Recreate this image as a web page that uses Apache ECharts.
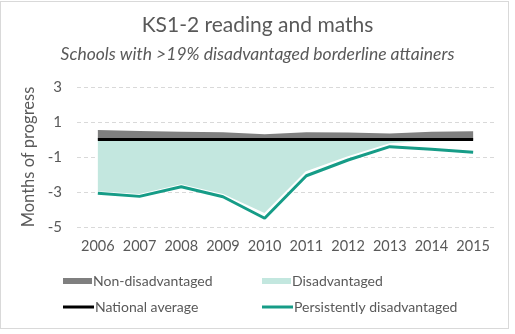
<!DOCTYPE html>
<html><head><meta charset="utf-8">
<script src="https://cdn.jsdelivr.net/npm/echarts@6/dist/echarts.min.js"></script>
<style>
html,body{margin:0;padding:0;background:#fff;}
#frame{position:absolute;left:0;top:1px;width:509px;height:328px;border:1px solid #d9d9d9;box-sizing:border-box;}
#c{position:absolute;left:0;top:0;width:515px;height:334px;}
</style></head>
<body><div id="frame"></div><div id="c"></div>
<script>
const years = ['2006','2007','2008','2009','2010','2011','2012','2013','2014','2015'];
const nonDisadvantaged = [0.54,0.48,0.45,0.41,0.3,0.41,0.4,0.35,0.45,0.47];
const disadvantaged = [-3.0,-3.15,-2.6,-3.15,-4.25,-1.85,-1.0,-0.25,-0.1,-0.1];
const nationalAverage = [0,0,0,0,0,0,0,0,0,0];
const persistentlyDisadvantaged = [-3.07,-3.25,-2.7,-3.27,-4.5,-2.07,-1.17,-0.41,-0.56,-0.73];
const yTicks = {min:-5, max:3, interval:2};

const font = 'Lato, "Open Sans", sans-serif';
const txt = '#595959';
const chart = echarts.init(document.getElementById('c'), null, {renderer:'canvas'});
function leg(name, left, top, opts){
  return Object.assign({data:[name], left:left, top:top, itemGap:0,
    textStyle:{color:txt, fontSize:14, fontFamily:font, padding:[0,0,0,-4]}, selectedMode:false}, opts);
}
chart.setOption({
  animation:false,
  title:[
    {text:'KS1-2 reading and maths', left:'center', top:10, textStyle:{fontFamily:font, fontSize:21, fontWeight:'normal', color:txt}},
    {text:'Schools with >19% disadvantaged borderline attainers', left:'center', top:40, textStyle:{fontFamily:font, fontSize:17.5, fontStyle:'italic', fontWeight:'normal', color:txt}}
  ],
  legend:[
    leg('Non-disadvantaged', 58, 269, {icon:'rect', itemWidth:29, itemHeight:6}),
    leg('Disadvantaged', 257, 269, {icon:'rect', itemWidth:29, itemHeight:6}),
    leg('National average', 58, 295, {icon:'rect', itemWidth:31, itemHeight:3}),
    leg('Persistently disadvantaged', 257, 295, {icon:'rect', itemWidth:31, itemHeight:3})
  ],
  grid:{left:77, right:21, top:87, bottom:107},
  xAxis:{type:'category', data:years, boundaryGap:true,
    axisLine:{show:true, onZero:false, lineStyle:{color:'#d9d9d9', width:0}}, axisTick:{show:false},
    axisLabel:{color:txt, fontSize:14.5, fontFamily:font, margin:12, interval:0}},
  yAxis:{type:'value', min:yTicks.min, max:yTicks.max, interval:yTicks.interval,
    name:'Months of progress', nameLocation:'middle', nameGap:37,
    nameTextStyle:{color:txt, fontSize:16.5, fontFamily:font},
    axisLine:{show:false}, axisTick:{show:false},
    axisLabel:{color:txt, fontSize:15, fontFamily:font, margin:15},
    splitLine:{lineStyle:{color:'#d9d9d9', type:[4,3]}}},
  series:[
    {name:'Non-disadvantaged', type:'line', data:nonDisadvantaged, symbol:'none', color:'#7f7f7f',
      lineStyle:{width:0}, areaStyle:{color:'#7f7f7f', opacity:1}, z:2},
    {name:'Disadvantaged', type:'line', data:disadvantaged, symbol:'none', color:'#c3e7df',
      lineStyle:{width:1.5, color:'#ffffff'}, areaStyle:{color:'#c3e7df', opacity:1}, z:1},
    {name:'zero', type:'line', data:[0,0,0,0,0,0,0,0,0,0], symbol:'none', silent:true,
      lineStyle:{width:1, color:'#d9d9d9'}, z:0},
    {name:'National average', type:'line', data:nationalAverage, symbol:'none', color:'#000000',
      lineStyle:{width:3, color:'#000000'}, z:4},
    {name:'Persistently disadvantaged', type:'line', data:persistentlyDisadvantaged, symbol:'none', color:'#169c87',
      lineStyle:{width:3, color:'#169c87'}, z:3}
  ]
});
</script></body></html>
